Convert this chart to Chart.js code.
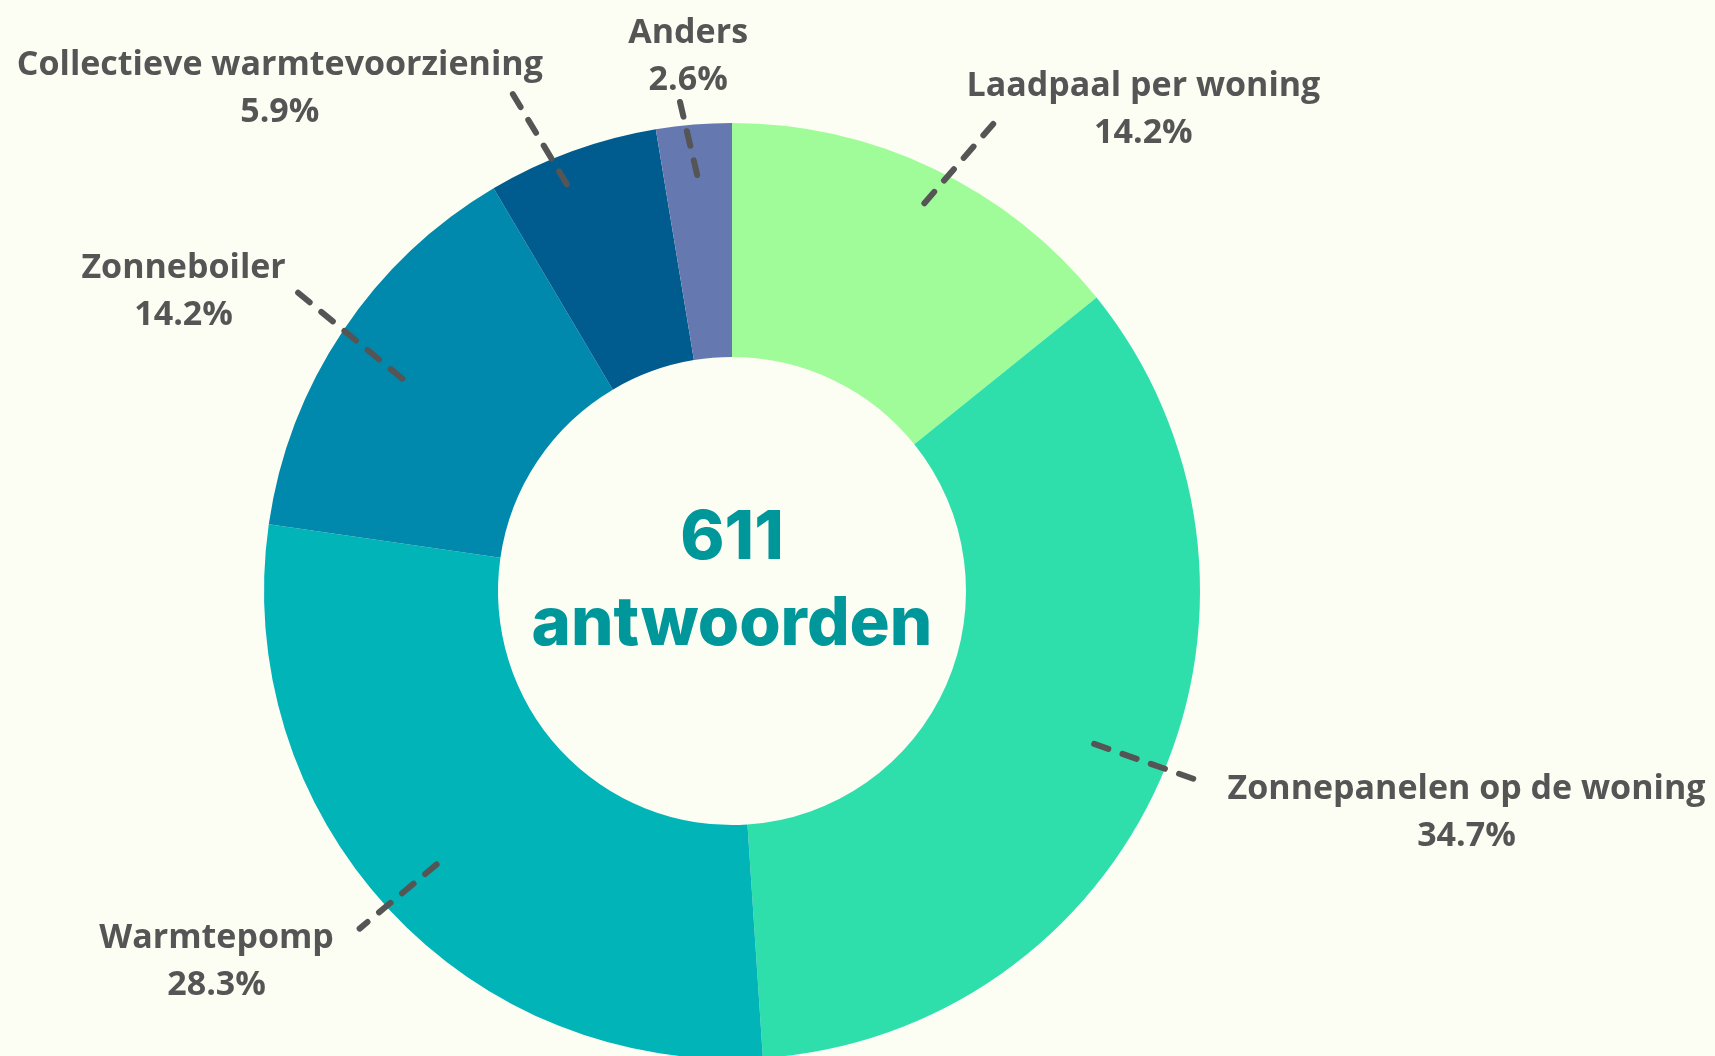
<!DOCTYPE html>
<html>
<head>
<meta charset="utf-8">
<script src="https://cdn.jsdelivr.net/npm/chart.js@4/dist/chart.umd.min.js"></script>
<style>
  html, body { margin: 0; padding: 0; background: #fcfdf3; overflow: hidden; width: 1715px; height: 1056px; }
  #wrap { position: absolute; left: 0; top: 0; width: 1715px; height: 1100px; }
</style>
</head>
<body>
<div id="wrap"><canvas id="c" width="1715" height="1100"></canvas></div>
<script>
// ---- data ----
const categories = ["Laadpaal per woning", "Zonnepanelen op de woning", "Warmtepomp", "Zonneboiler", "Collectieve warmtevoorziening", "Anders"];
const percentages = [14.2, 34.7, 28.3, 14.2, 5.9, 2.6];
const percentLabels = ["14.2%", "34.7%", "28.3%", "14.2%", "5.9%", "2.6%"];
const totalAnswers = 611;
const centerLines = [String(totalAnswers), "antwoorden"];

// ---- style ----
const sliceColors = ["#a0fc99", "#2edfac", "#00b4b7", "#0089ad", "#005c8f", "#6579b0"];
// leader layout: radius fractions + angle tweaks (deg) + label offset from outer end
const leaderLayout = [
  { rIn: 0.925, rOut: 1.16,  aIn: 0.8,  aOut: 3.8,  dx: 145,  dy: -32 },
  { rIn: 0.84,  rOut: 1.085, aIn: -0.8, aOut: -1.6, dx: 264,  dy: 7 },
  { rIn: 0.86,  rOut: 1.074, aIn: 0,    aOut: 0.6,  dx: -143, dy: 10 },
  { rIn: 0.838, rOut: 1.143, aIn: -1,   aOut: 0.8,  dx: -108, dy: -19 },
  { rIn: 0.938, rOut: 1.177, aIn: -2.1, aOut: -3.9, dx: -229, dy: -22 },
  { rIn: 0.892, rOut: 1.068, aIn: -0.1, aOut: -1.5, dx: 10,   dy: -61 }
];

const labelPlugin = {
  id: 'leaderLabels',
  afterDraw(chart) {
    const ctx = chart.ctx;
    const meta = chart.getDatasetMeta(0);
    ctx.save();
    meta.data.forEach((arc, i) => {
      const p = arc.getProps(['x', 'y', 'startAngle', 'endAngle', 'outerRadius'], true);
      const mid = (p.startAngle + p.endAngle) / 2;
      const L = leaderLayout[i];
      const a1 = mid + L.aIn * Math.PI / 180;
      const a2 = mid + L.aOut * Math.PI / 180;
      const x1 = p.x + Math.cos(a1) * p.outerRadius * L.rIn;
      const y1 = p.y + Math.sin(a1) * p.outerRadius * L.rIn;
      const x2 = p.x + Math.cos(a2) * p.outerRadius * L.rOut;
      const y2 = p.y + Math.sin(a2) * p.outerRadius * L.rOut;
      ctx.strokeStyle = "#555555";
      ctx.lineWidth = 6;
      ctx.lineCap = "round";
      ctx.setLineDash([15, 15]);
      ctx.beginPath();
      ctx.moveTo(x1, y1);
      ctx.lineTo(x2, y2);
      ctx.stroke();
      ctx.setLineDash([]);
      ctx.fillStyle = "#555555";
      ctx.font = "700 34px 'Open Sans'";
      ctx.textAlign = "center";
      ctx.textBaseline = "middle";
      const lx = x2 + L.dx, ly = y2 + L.dy;
      ctx.fillText(chart.data.labels[i], lx, ly);
      ctx.fillText(percentLabels[i], lx, ly + 47);
    });
    // center text
    const a0 = meta.data[0];
    ctx.fillStyle = "#00979a";
    ctx.font = "800 67px Inter";
    ctx.textAlign = "center";
    ctx.textBaseline = "alphabetic";
    ctx.fillText(centerLines[0], a0.x, a0.y - 32);
    ctx.fillText(centerLines[1], a0.x, a0.y + 54);
    ctx.restore();
  }
};

new Chart(document.getElementById('c'), {
  type: 'doughnut',
  data: {
    labels: categories,
    datasets: [{
      data: percentages,
      backgroundColor: sliceColors,
      borderWidth: 0,
      hoverOffset: 0,
      offset: 0
    }]
  },
  options: {
    responsive: false,
    animation: false,
    cutout: '50%',
    layout: { padding: { left: 264, right: 515, top: 123, bottom: 41 } },
    plugins: { legend: { display: false }, tooltip: { enabled: false } },
    events: []
  },
  plugins: [labelPlugin]
});
</script>
</body>
</html>
